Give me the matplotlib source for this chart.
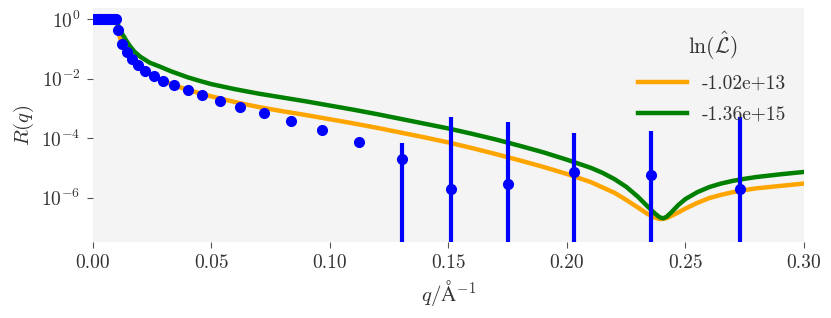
import numpy as np
import matplotlib
matplotlib.use("Agg")
import matplotlib.pyplot as plt

plt.rcParams['font.family'] = 'serif'
plt.rcParams['font.serif'] = ['cmr10', 'DejaVu Serif']
plt.rcParams['mathtext.fontset'] = 'cm'
plt.rcParams['axes.unicode_minus'] = False
plt.rcParams['axes.formatter.use_mathtext'] = True

# measured data
q_data = [0.0005, 0.0010, 0.0015, 0.0020, 0.0025, 0.0030, 0.0035, 0.0040, 0.0045,
          0.0050, 0.0055, 0.0060, 0.0065, 0.0070, 0.0075, 0.0080, 0.0085, 0.0090,
          0.0095,
          0.0106, 0.0122, 0.0142, 0.0164, 0.0190, 0.0220, 0.0256, 0.0296, 0.0341,
          0.0399, 0.0462, 0.0537, 0.0621, 0.0722, 0.0837, 0.0968, 0.1124,
          0.1305, 0.1512, 0.1752, 0.2030, 0.2353, 0.2728]
R_data = [1.0] * 19 + [0.427, 0.148, 0.076, 0.047, 0.028, 0.018, 0.012, 8.5e-3, 6.0e-3,
                       4.0e-3, 2.8e-3, 1.8e-3, 1.12e-3, 7.1e-4, 3.8e-4, 1.9e-4, 7.4e-5,
                       1.9e-5, 1.9e-6, 2.8e-6, 7.0e-6, 5.8e-6, 1.9e-6]
dR_data = [0.005] * 19 + [4e-3, 1.5e-3, 8e-4, 5e-4, 3e-4, 2e-4, 1.2e-4, 9e-5, 6e-5,
                          4e-5, 3e-5, 2e-5, 1.2e-5, 8e-6, 5e-6, 3e-6, 2e-6,
                          5.0e-5, 5.1e-4, 3.5e-4, 1.45e-4, 1.65e-4, 5.0e-4]

# model 1 (orange): q and log10 R
q_model1 = [0.0, 0.0100, 0.0103, 0.0106, 0.0110, 0.0115, 0.0121, 0.0130, 0.0142, 0.0164,
            0.0190, 0.0220, 0.0256, 0.0296, 0.0340, 0.0400, 0.0460, 0.0540, 0.0620, 0.0700,
            0.0800, 0.0900, 0.1000, 0.1100, 0.1200, 0.1300, 0.1400, 0.1500, 0.1600, 0.1700,
            0.1800, 0.1900, 0.2000, 0.2100, 0.2200, 0.2250, 0.2300, 0.2340, 0.2370, 0.2390,
            0.2405, 0.2420, 0.2440, 0.2470, 0.2500, 0.2550, 0.2600, 0.2650, 0.2700, 0.2750,
            0.2800, 0.2900, 0.3000]
logR_model1 = [0.0, 0.0, -0.20, -0.37, -0.52, -0.66, -0.80, -0.95, -1.12, -1.33,
               -1.54, -1.73, -1.91, -2.07, -2.22, -2.38, -2.52, -2.68, -2.83, -2.96,
               -3.10, -3.23, -3.37, -3.51, -3.66, -3.82, -3.98, -4.15, -4.34, -4.54,
               -4.75, -4.97, -5.21, -5.48, -5.84, -6.08, -6.34, -6.55, -6.67, -6.72,
               -6.72, -6.69, -6.62, -6.50, -6.37, -6.18, -6.02, -5.91, -5.82, -5.75,
               -5.69, -5.61, -5.53]

# model 2 (green): q and log10 R
q_model2 = [0.0, 0.0100, 0.0102, 0.0105, 0.0110, 0.0118, 0.0128, 0.0140, 0.0155, 0.0175,
            0.0200, 0.0240, 0.0282, 0.0330, 0.0400, 0.0450, 0.0500, 0.0600, 0.0700, 0.0800,
            0.0900, 0.1000, 0.1100, 0.1200, 0.1300, 0.1400, 0.1500, 0.1600, 0.1700, 0.1800,
            0.1900, 0.2000, 0.2100, 0.2150, 0.2200, 0.2250, 0.2300, 0.2340, 0.2370, 0.2390,
            0.2405, 0.2420, 0.2440, 0.2470, 0.2500, 0.2550, 0.2600, 0.2650, 0.2700, 0.2750,
            0.2800, 0.2900, 0.3000]
logR_model2 = [0.0, 0.0, -0.08, -0.18, -0.30, -0.44, -0.56, -0.72, -0.90, -1.10,
               -1.27, -1.47, -1.60, -1.76, -1.96, -2.08, -2.19, -2.36, -2.51, -2.64,
               -2.77, -2.91, -3.05, -3.20, -3.36, -3.52, -3.68, -3.86, -4.05, -4.26,
               -4.48, -4.73, -5.00, -5.17, -5.38, -5.64, -5.98, -6.30, -6.53, -6.66,
               -6.70, -6.65, -6.50, -6.25, -6.05, -5.82, -5.65, -5.53, -5.44, -5.37,
               -5.31, -5.22, -5.14]

labels = ['-1.02e+13', '-1.36e+15']

fig = plt.figure(figsize=(8.31, 3.18), dpi=100)
ax = fig.add_axes([0.1119, 0.239, 0.9675 - 0.1119, 0.9748 - 0.239])
ax.set_facecolor('#f4f4f4')
for s in ax.spines.values():
    s.set_visible(False)

ax.errorbar(q_data, R_data, yerr=dR_data, fmt='o', color='blue', ms=7,
            elinewidth=3, capsize=0, zorder=3)
ax.plot(q_model1, np.power(10.0, logR_model1), color='orange', lw=3.2,
        label=labels[0], zorder=2)
ax.plot(q_model2, np.power(10.0, logR_model2), color='green', lw=3.2,
        label=labels[1], zorder=2)

ax.set_yscale('log')
ax.set_xlim(0, 0.30)
ax.set_ylim(3.2e-8, 2.34)
ax.set_yticks([1e0, 1e-2, 1e-4, 1e-6])
ax.yaxis.set_minor_locator(matplotlib.ticker.NullLocator())
ax.set_xticks([0.0, 0.05, 0.10, 0.15, 0.20, 0.25, 0.30])
ax.xaxis.set_major_formatter(matplotlib.ticker.FormatStrFormatter('%.2f'))
ax.tick_params(axis='both', which='major', labelsize=14, length=4, width=0.8,
               color='#555555', labelcolor='#333333', pad=5)

ax.set_xlabel(r'$q/\mathrm{\AA}^{-1}$', fontsize=15, color='#333333')
ax.set_ylabel(r'$R(q)$', fontsize=15, color='#333333')

leg = ax.legend(title=r'$\ln(\hat{\mathcal{L}})$', frameon=False, fontsize=14,
                title_fontsize=15.5, loc='upper right', bbox_to_anchor=(1.0, 0.98),
                handlelength=2.5, labelspacing=0.65)
for t in leg.get_texts():
    t.set_color('#333333')
leg.get_title().set_color('#333333')

fig.savefig('out.png', dpi=100)
